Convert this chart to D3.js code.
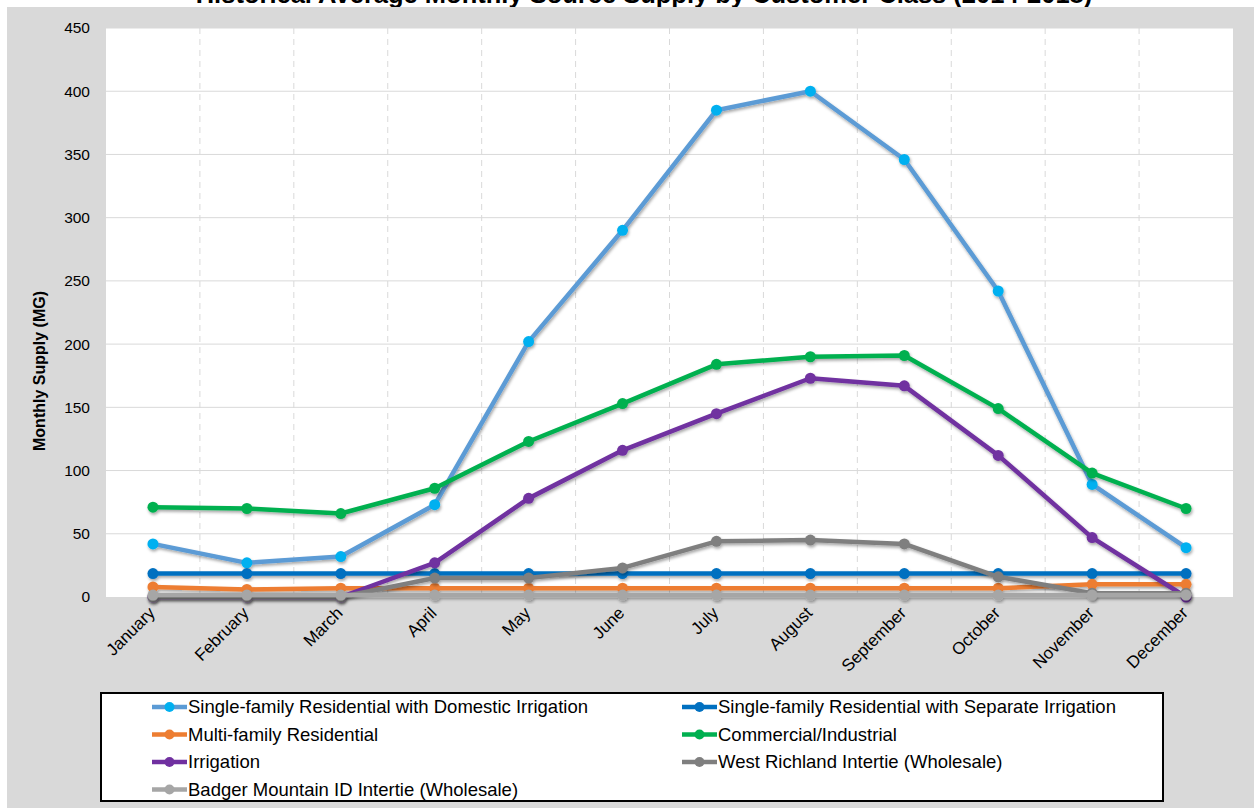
<!DOCTYPE html>
<html>
<head>
<meta charset="UTF-8">
<title>Monthly Supply</title>
<style>
  body { margin: 0; background: #fff; }
  svg { display: block; font-family: "Liberation Sans", Arial, sans-serif; }
</style>
</head>
<body>
<svg></svg>
<script src="https://d3js.org/d3.v7.min.js"></script>
<script>
// chart values
var months = ["January", "February", "March", "April", "May", "June", "July",
              "August", "September", "October", "November", "December"];
var sfDomestic   = [42, 27, 32, 73, 202, 290, 385, 400, 346, 242, 89, 39];
var sfSeparate   = [18.5, 18.5, 18.5, 18.5, 18.5, 18.5, 18.5, 18.5, 18.5, 18.5, 18.5, 18.5];
var multiFamily  = [8, 6, 7, 7, 7, 7, 7, 7, 7, 7, 10, 10];
var commercial   = [71, 70, 66, 86, 123, 153, 184, 190, 191, 149, 98, 70];
var irrigation   = [0, 0, 0, 27, 78, 116, 145, 173, 167, 112, 47, 0];
var westRichland = [0, 0, 0, 15, 15, 23, 44, 45, 42, 16, 3, 3];
var badgerMtn    = [1.5, 1.5, 1.5, 1.5, 1.5, 1.5, 1.5, 1.5, 1.5, 1.5, 1.5, 1.5];
var yTicks = [0, 50, 100, 150, 200, 250, 300, 350, 400, 450];

var seriesNames = ["Single-family Residential with Domestic Irrigation",
                   "Single-family Residential with Separate Irrigation",
                   "Multi-family Residential", "Commercial/Industrial", "Irrigation",
                   "West Richland Intertie (Wholesale)", "Badger Mountain ID Intertie (Wholesale)"];
var seriesData = [sfDomestic, sfSeparate, multiFamily, commercial, irrigation, westRichland, badgerMtn];
var lineColors = ["#5b9bd5", "#0070c0", "#ed7d31", "#00b050", "#7030a0", "#7f7f7f", "#a6a6a6"];
var dotColors  = ["#00b0f0", "#0070c0", "#ed7d31", "#00b050", "#7030a0", "#7f7f7f", "#a6a6a6"];

var width = 1254, height = 808;
var svg = d3.select("svg").attr("width", width).attr("height", height);

var defs = svg.append("defs");
var f = defs.append("filter").attr("id", "shadow")
    .attr("x", "-5%").attr("y", "-5%").attr("width", "110%").attr("height", "130%");
f.append("feDropShadow").attr("dx", 1).attr("dy", 2).attr("stdDeviation", 1.5)
    .attr("flood-color", "#000").attr("flood-opacity", 0.35);

// title (cut off at the top edge, as in the source image)
svg.append("text")
    .attr("x", 644).attr("y", 3)
    .attr("text-anchor", "middle")
    .style("font-size", "25.5px").style("font-weight", "bold")
    .text("Historical Average Monthly Source Supply by Customer Class (2014-2018)");

// grey background
svg.append("rect")
    .attr("x", 7).attr("y", 7).attr("width", width - 7).attr("height", height - 7)
    .attr("fill", "#d9d9d9");

var plot = {left: 106, right: 1233, top: 28, bottom: 597};

var x = d3.scaleBand().domain(months).range([plot.left, plot.right]);
var y = d3.scaleLinear().domain([0, 450]).range([plot.bottom, plot.top]);

svg.append("rect")
    .attr("x", plot.left).attr("y", plot.top)
    .attr("width", plot.right - plot.left).attr("height", plot.bottom - plot.top)
    .attr("fill", "#fff");

// horizontal gridlines
svg.append("g").selectAll("line")
    .data(yTicks.slice(1))
    .enter().append("line")
    .attr("x1", plot.left).attr("x2", plot.right)
    .attr("y1", d => y(d)).attr("y2", d => y(d))
    .attr("stroke", "#d9d9d9").attr("stroke-width", 1);

// vertical dashed gridlines at category boundaries
svg.append("g").selectAll("line")
    .data(months.slice(1))
    .enter().append("line")
    .attr("x1", d => x(d)).attr("x2", d => x(d))
    .attr("y1", plot.top).attr("y2", plot.bottom)
    .attr("stroke", "#d9d9d9").attr("stroke-width", 1)
    .attr("stroke-dasharray", "6,5");

// y axis labels
var yAxis = d3.axisLeft(y).tickValues(yTicks).tickSize(0).tickPadding(0);
var gy = svg.append("g").attr("transform", "translate(90,0)").call(yAxis);
gy.select(".domain").remove();
gy.selectAll("text").style("font-size", "15.5px").style("font-family", "Liberation Sans, Arial")
    .attr("fill", "#000");

svg.append("text")
    .attr("transform", "translate(45,371) rotate(-90)")
    .attr("text-anchor", "middle")
    .style("font-size", "16px").style("font-weight", "bold")
    .text("Monthly Supply (MG)");

// x axis labels
var xAxis = d3.axisBottom(x).tickSize(0).tickPadding(0);
var gx = svg.append("g").attr("transform", "translate(0," + plot.bottom + ")").call(xAxis);
gx.select(".domain").remove();
gx.selectAll("text")
    .style("font-size", "17px").style("font-family", "Liberation Sans, Arial")
    .attr("fill", "#000")
    .attr("text-anchor", "end")
    .attr("dy", null)
    .attr("transform", "translate(3,17) rotate(-45)");

// series
var line = d3.line().x((d, i) => x(months[i]) + x.bandwidth() / 2).y(d => y(d));

seriesData.forEach(function(vals, s) {
    var g = svg.append("g").attr("filter", "url(#shadow)");
    g.append("path")
        .datum(vals)
        .attr("d", line)
        .attr("fill", "none")
        .attr("stroke", lineColors[s])
        .attr("stroke-width", 4.5)
        .attr("stroke-linejoin", "round");
    g.selectAll("circle")
        .data(vals)
        .enter().append("circle")
        .attr("cx", (d, i) => x(months[i]) + x.bandwidth() / 2)
        .attr("cy", d => y(d))
        .attr("r", 5.5)
        .attr("fill", dotColors[s]);
});

// legend
var legend = svg.append("g");
legend.append("rect")
    .attr("x", 101).attr("y", 693).attr("width", 1062).attr("height", 108)
    .attr("fill", "#fff").attr("stroke", "#000").attr("stroke-width", 2);

var item = legend.selectAll("g.item")
    .data(seriesNames)
    .enter().append("g")
    .attr("class", "item")
    .attr("transform", (d, i) => "translate(" + (i % 2 === 0 ? 152 : 682) + "," + (707 + Math.floor(i / 2) * 27.5) + ")");

item.append("line")
    .attr("x1", 0).attr("x2", 35).attr("y1", 0).attr("y2", 0)
    .attr("stroke", (d, i) => lineColors[i]).attr("stroke-width", 4.5);
item.append("circle")
    .attr("cx", 17.5).attr("cy", 0).attr("r", 5)
    .attr("fill", (d, i) => dotColors[i]);
item.append("text")
    .attr("x", 36).attr("y", 6)
    .style("font-size", "18.5px")
    .text(d => d);
</script>
</body>
</html>
